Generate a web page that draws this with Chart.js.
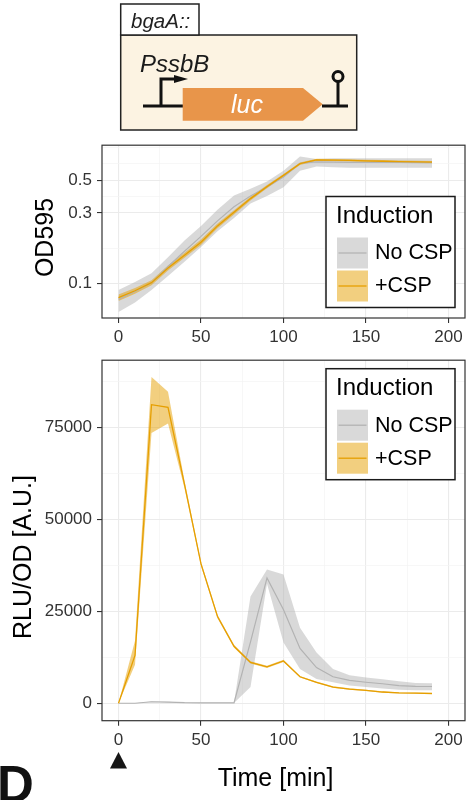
<!DOCTYPE html>
<html>
<head>
<meta charset="utf-8">
<script src="https://cdn.jsdelivr.net/npm/chart.js@4.4.1/dist/chart.umd.min.js"></script>
<style>
  html, body { margin: 0; padding: 0; background: #fff; }
  body { width: 468px; height: 800px; position: relative; overflow: hidden; font-family: "Liberation Sans", Arial, sans-serif; }
  .box { position: absolute; left: 0; width: 468px; }
  #odBox { top: 130px; height: 220px; }
  #rluBox { top: 345px; height: 455px; }
  #art { position: absolute; left: 0; top: 0; pointer-events: none; }
</style>
</head>
<body>
<div class="box" id="odBox"><canvas id="odChart" width="468" height="220"></canvas></div>
<div class="box" id="rluBox"><canvas id="rluChart" width="468" height="455"></canvas></div>

<svg id="art" width="468" height="800" xmlns="http://www.w3.org/2000/svg" font-family="Liberation Sans, Arial, sans-serif">
  <!-- construct -->
  <rect x="120.7" y="35" width="236" height="95" fill="#fcf3e2" stroke="#222" stroke-width="1.5"/>
  <rect x="120.7" y="4" width="78.3" height="31" fill="#fff" stroke="#222" stroke-width="1.5"/>
  <text x="131" y="27.5" font-size="20.5" font-style="italic" fill="#222">bgaA::</text>
  <text x="140" y="72" font-size="24" font-style="italic" fill="#1a1a1a">PssbB</text>
  <path d="M143 106 H184 M161 107.5 V79 H175" fill="none" stroke="#111" stroke-width="3"/>
  <polygon points="174,75 188,79 174,83" fill="#111"/>
  <polygon points="182.7,88 303,88 322.7,104.3 303,120.7 182.7,120.7" fill="#e8954a"/>
  <text x="247" y="112.5" font-size="25" font-style="italic" fill="#fff" text-anchor="middle">luc</text>
  <path d="M322 106 H348 M338 107.5 V82" fill="none" stroke="#111" stroke-width="3"/>
  <circle cx="338" cy="76.5" r="5" fill="none" stroke="#111" stroke-width="3"/>
  <!-- axis titles -->
  <text transform="translate(52.5,237.5) rotate(-90)" font-size="25" text-anchor="middle" fill="#000">OD595</text>
  <text transform="translate(30.5,557) rotate(-90)" font-size="25" text-anchor="middle" fill="#000">RLU/OD [A.U.]</text>
  <text x="275.5" y="786" font-size="25" text-anchor="middle" fill="#000">Time [min]</text>
  <text x="-3" y="802" font-size="51" font-weight="bold" fill="#111">D</text>
</svg>

<script>
const timeMin = [0, 10, 20, 30, 40, 50, 60, 70, 80, 90, 100, 110, 120, 130, 140, 150, 160, 170, 180, 190];

const seriesNames = ['No CSP', '+CSP'];
const legendTitle = 'Induction';

// OD595 (log axis)
const odNoCsp     = [0.078, 0.088, 0.101, 0.130, 0.165, 0.208, 0.265, 0.330, 0.390, 0.450, 0.525, 0.650, 0.665, 0.662, 0.660, 0.660, 0.660, 0.659, 0.658, 0.658];
const odNoCspLow  = [0.064, 0.074, 0.090, 0.112, 0.140, 0.176, 0.225, 0.277, 0.348, 0.390, 0.447, 0.580, 0.620, 0.612, 0.608, 0.607, 0.607, 0.607, 0.607, 0.607];
const odNoCspHigh = [0.090, 0.102, 0.117, 0.150, 0.195, 0.245, 0.315, 0.394, 0.437, 0.490, 0.580, 0.723, 0.696, 0.705, 0.705, 0.705, 0.705, 0.705, 0.705, 0.705];
const odCsp       = [0.080, 0.089, 0.101, 0.127, 0.155, 0.190, 0.245, 0.303, 0.375, 0.452, 0.539, 0.647, 0.687, 0.684, 0.680, 0.676, 0.672, 0.668, 0.665, 0.662];
const odCspLow    = [0.076, 0.085, 0.097, 0.122, 0.149, 0.182, 0.236, 0.293, 0.364, 0.440, 0.527, 0.634, 0.675, 0.672, 0.668, 0.664, 0.660, 0.656, 0.653, 0.650];
const odCspHigh   = [0.084, 0.093, 0.105, 0.132, 0.161, 0.198, 0.254, 0.313, 0.386, 0.464, 0.551, 0.660, 0.699, 0.696, 0.692, 0.688, 0.684, 0.680, 0.677, 0.674];

// RLU/OD
const rluNoCsp     = [0, 0, 400, 300, 150, 100, 100, 100, 16700, 34100, 25400, 14900, 9700, 7200, 6200, 5700, 5300, 4800, 4600, 4550];
const rluNoCspLow  = [0, 0, 300, 200, 100, 50, 50, 50, 4400, 32500, 16500, 9300, 6600, 5700, 4800, 4400, 4000, 3700, 3500, 3500];
const rluNoCspHigh = [0, 0, 500, 400, 200, 150, 150, 150, 29000, 36400, 35000, 20500, 13800, 9300, 7600, 7000, 6500, 6000, 5500, 5450];
const rluCsp       = [0, 13000, 81200, 80500, 59500, 37900, 23600, 15500, 11100, 9900, 11500, 7200, 5700, 4400, 3850, 3500, 3050, 2800, 2750, 2650];
const rluCspLow    = [0, 10500, 73500, 76100, 58500, 37300, 23100, 15100, 10800, 9600, 11200, 7000, 5500, 4200, 3650, 3300, 2850, 2650, 2600, 2500];
const rluCspHigh   = [0, 17000, 88700, 84700, 60500, 38500, 24100, 15900, 11400, 10200, 11800, 7400, 5900, 4600, 4050, 3700, 3250, 2950, 2900, 2800];

const xTicks = [0, 50, 100, 150, 200];
const xMinor = [25, 75, 125, 175];
const odTicks = [0.1, 0.3, 0.5];
const odMinor = [0.173, 0.387, 0.646, 0.834];
const rluTicks = [0, 25000, 50000, 75000];
const rluMinor = [12500, 37500, 62500, 87500];

const FONT = '"Liberation Sans", Arial, sans-serif';
const grey = '#b3b3b3';
const orange = '#e69f00';
const greyFill = 'rgba(179,179,179,0.5)';
const orangeFill = 'rgba(230,159,0,0.5)';

const pts = (ys) => timeMin.map((t, i) => ({ x: t, y: ys[i] }));

function makeDatasets(noCsp, noLow, noHigh, csp, cLow, cHigh) {
  const band = { borderColor: 'transparent', borderWidth: 0, pointRadius: 0, tension: 0 };
  return [
    { label: seriesNames[1], data: pts(csp), borderColor: orange, borderWidth: 1.3, pointRadius: 0, tension: 0, fill: false },
    { label: seriesNames[0], data: pts(noCsp), borderColor: grey, borderWidth: 1.2, pointRadius: 0, tension: 0, fill: false },
    { ...band, data: pts(cLow), fill: false },
    { ...band, data: pts(cHigh), backgroundColor: orangeFill, fill: '-1' },
    { ...band, data: pts(noLow), fill: false },
    { ...band, data: pts(noHigh), backgroundColor: greyFill, fill: '-1' }
  ];
}

function gridOpts(major) {
  return {
    color: (c) => (c.tick && major.includes(c.tick.value) ? '#ebebeb' : '#f4f4f4'),
    lineWidth: (c) => (c.tick && major.includes(c.tick.value) ? 1.1 : 0.7),
    tickColor: (c) => (c.tick && major.includes(c.tick.value) ? '#333' : 'rgba(0,0,0,0)'),
    tickLength: 5,
    drawTicks: true
  };
}

function xScale(height) {
  return {
    type: 'linear', min: -10, max: 210,
    afterBuildTicks: (s) => { s.ticks = [...xTicks, ...xMinor].sort((a, b) => a - b).map((v) => ({ value: v })); },
    afterFit: (s) => { s.height = height; },
    grid: gridOpts(xTicks),
    border: { display: false },
    ticks: {
      autoSkip: false, maxRotation: 0, padding: 4.5, color: '#333',
      font: { family: FONT, size: 17 },
      callback: (v) => (xTicks.includes(v) ? String(v) : '')
    }
  };
}

const ggFrame = {
  id: 'ggFrame',
  afterDraw(chart, args, opts) {
    const { ctx, chartArea: a } = chart;
    ctx.save();
    ctx.strokeStyle = '#333';
    ctx.lineWidth = 1.2;
    ctx.strokeRect(a.left, a.top, a.right - a.left, a.bottom - a.top);

    // legend box
    const w = 129, h = 111;
    const x = a.right - 10 - w;
    const y = opts.legendAt === 'bottom' ? a.bottom - 10.5 - h : a.top + 8.5;
    ctx.fillStyle = '#fff';
    ctx.fillRect(x, y, w, h);
    ctx.strokeStyle = '#1a1a1a';
    ctx.lineWidth = 1.5;
    ctx.strokeRect(x, y, w, h);
    ctx.fillStyle = '#000';
    ctx.textBaseline = 'middle';
    ctx.font = '24px ' + FONT;
    ctx.fillText(legendTitle, x + 10, y + 19.5);
    const fills = [greyFill, orangeFill];
    const lines = [grey, orange];
    seriesNames.forEach((name, i) => {
      const ky = y + 41 + i * 33;
      ctx.fillStyle = fills[i];
      ctx.fillRect(x + 11, ky, 31, 31);
      ctx.strokeStyle = lines[i];
      ctx.lineWidth = 1.3;
      ctx.beginPath();
      ctx.moveTo(x + 12.5, ky + 15.5);
      ctx.lineTo(x + 40.5, ky + 15.5);
      ctx.stroke();
      ctx.fillStyle = '#000';
      ctx.font = '21.5px ' + FONT;
      ctx.fillText(name, x + 49, ky + 16);
    });

    // induction marker under t = 0
    if (opts.marker) {
      const px = chart.scales.x.getPixelForValue(0);
      ctx.fillStyle = '#161616';
      ctx.beginPath();
      ctx.moveTo(px - 8.5, 423.5);
      ctx.lineTo(px + 8.5, 423.5);
      ctx.lineTo(px, 407);
      ctx.closePath();
      ctx.fill();
    }
    ctx.restore();
  }
};

Chart.register(ggFrame);

new Chart(document.getElementById('odChart'), {
  type: 'line',
  data: { datasets: makeDatasets(odNoCsp, odNoCspLow, odNoCspHigh, odCsp, odCspLow, odCspHigh) },
  options: {
    responsive: false, animation: false,
    layout: { padding: { top: 10, right: 3, left: 0, bottom: 0 } },
    plugins: { legend: { display: false }, tooltip: { enabled: false }, ggFrame: { legendAt: 'bottom', marker: false } },
    scales: {
      x: xScale(32),
      y: {
        type: 'logarithmic', min: 0.0582, max: 0.863,
        afterBuildTicks: (s) => { s.ticks = [...odTicks, ...odMinor].sort((a, b) => a - b).map((v) => ({ value: v })); },
        afterFit: (s) => { s.width = 102; },
        grid: gridOpts(odTicks),
        border: { display: false },
        ticks: {
          autoSkip: false, padding: 5, color: '#333',
          font: { family: FONT, size: 17 },
          callback: (v) => (odTicks.includes(v) ? String(v) : '')
        }
      }
    }
  }
});

new Chart(document.getElementById('rluChart'), {
  type: 'line',
  data: { datasets: makeDatasets(rluNoCsp, rluNoCspLow, rluNoCspHigh, rluCsp, rluCspLow, rluCspHigh) },
  options: {
    responsive: false, animation: false,
    layout: { padding: { top: 10, right: 3, left: 0, bottom: 0 } },
    plugins: { legend: { display: false }, tooltip: { enabled: false }, ggFrame: { legendAt: 'top', marker: true } },
    scales: {
      x: xScale(79.3),
      y: {
        type: 'linear', min: -4750, max: 93300,
        afterBuildTicks: (s) => { s.ticks = [...rluTicks, ...rluMinor].sort((a, b) => a - b).map((v) => ({ value: v })); },
        afterFit: (s) => { s.width = 102; },
        grid: gridOpts(rluTicks),
        border: { display: false },
        ticks: {
          autoSkip: false, padding: 5, color: '#333',
          font: { family: FONT, size: 17 },
          callback: (v) => (rluTicks.includes(v) ? String(v) : '')
        }
      }
    }
  }
});
</script>
</body>
</html>
